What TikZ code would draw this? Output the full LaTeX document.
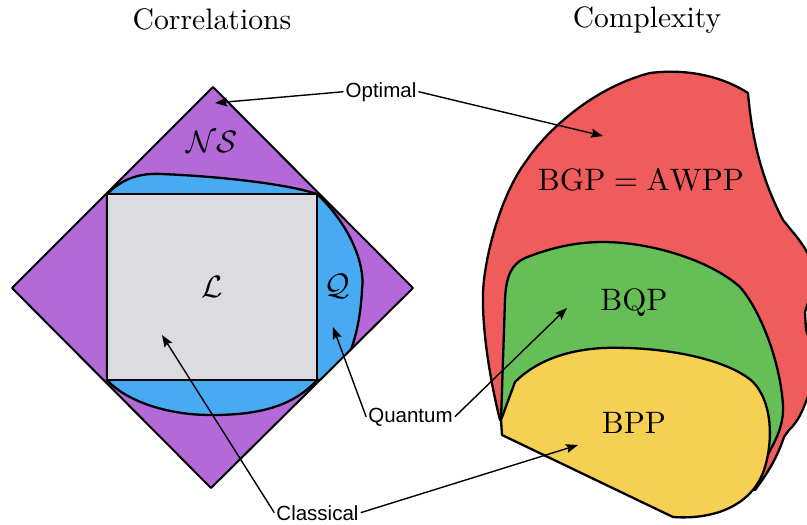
\documentclass[tikz,border=0pt]{standalone}
\usepackage{fontspec}
\newfontfamily\labfont{Liberation Sans}
\usetikzlibrary{arrows.meta}
\definecolor{nspurple}{RGB}{179,106,216}
\definecolor{qblue}{RGB}{72,170,240}
\definecolor{lgray}{RGB}{220,220,224}
\definecolor{cred}{RGB}{240,92,92}
\definecolor{cgreen}{RGB}{102,190,86}
\definecolor{cyellow}{RGB}{245,208,82}
\tikzset{
  region/.style={draw=black, line width=2.3pt, line join=round},
  arr/.style={-{Stealth[length=12pt,width=9pt,inset=2pt]}, line width=1.4pt},
  lab/.style={font=\labfont\fontsize{20.5}{24}\selectfont, inner sep=2pt, anchor=base},
  mlab/.style={inner sep=0pt, anchor=base},
}
\begin{document}
\begin{tikzpicture}[x=1pt,y=-1pt]
\useasboundingbox (0,0) rectangle (807,525);
% diamond
\coordinate (dT) at (213,87);
\coordinate (dR) at (413,288);
\coordinate (dB) at (211,488);
\coordinate (dL) at (12,288);
\fill[nspurple] (dT) -- (dR) -- (dB) -- (dL) -- cycle;
\begin{scope}
  \clip (dT) -- (dR) -- (dB) -- (dL) -- cycle;
  \draw[region, fill=qblue] (107,194) .. controls (124,177) and (142,173) .. (162,174)
    .. controls (230,177) and (290,185) .. (317,194)
    .. controls (345,220) and (366,260) .. (362,290)
    .. controls (360,330) and (350,360) .. (335,380) -- (317,380)
    .. controls (290,410) and (250,415) .. (211,415)
    .. controls (165,415) and (125,400) .. (107,380) -- cycle;
\end{scope}
\draw[region, line width=2pt] (dT) -- (dR) -- (dB) -- (dL) -- cycle;
\draw[fill=lgray, line width=2.7pt] (107,194) rectangle (317,380);
% complexity blobs
\draw[region, fill=cred] (500,420) .. controls (490,380) and (482,330) .. (483,293)
  .. controls (484,260) and (500,195) .. (527,160)
  .. controls (540,140) and (585,90) .. (650,73)
  .. controls (690,68) and (725,78) .. (748,93)
  .. controls (752,140) and (762,180) .. (783,220)
  .. controls (795,235) and (803,243) .. (810,258)
  -- (812,290) -- (805,312) -- (806,330) -- (812,345) -- (812,385)
  .. controls (805,405) and (800,420) .. (789,430) -- (784,437)
  .. controls (778,455) and (770,470) .. (755,490) -- (700,470) -- cycle;
\draw[region, fill=cgreen] (501,420) -- (505,300)
  .. controls (506,275) and (512,264) .. (525,258)
  .. controls (555,246) and (580,242) .. (603,242)
  .. controls (650,242) and (710,260) .. (740,287)
  .. controls (760,310) and (780,360) .. (783,405)
  .. controls (784,425) and (776,440) .. (766,458) -- (740,470) -- cycle;
\draw[region, fill=cyellow] (501,420) -- (502,435) -- (673,517)
  .. controls (715,520) and (752,505) .. (764,470)
  .. controls (774,440) and (772,400) .. (752,381)
  .. controls (725,358) and (660,346) .. (603,348)
  .. controls (565,350) and (535,362) .. (515,382) -- cycle;
% titles
\node[mlab] (tcorr) at (212,29) {\scalebox{2.97}{Correlations}};
\node[mlab] (tcomp) at (647,27) {\scalebox{2.95}{Complexity}};
% region labels
\node[mlab] (ns) at (212,152) {\scalebox{3.1}{$\mathcal{NS}$}};
\node[mlab] (ll) at (212,297) {\scalebox{3.1}{$\mathcal{L}$}};
\node[mlab] (qq) at (337,295) {\scalebox{3.1}{$\mathcal{Q}$}};
\node[mlab] (bgp) at (641,190) {\scalebox{3.1}{$\mathrm{BGP}=\mathrm{AWPP}$}};
\node[mlab] (bqp) at (634,310) {\scalebox{3.1}{$\mathrm{BQP}$}};
\node[mlab] (bpp) at (634,433) {\scalebox{3.1}{$\mathrm{BPP}$}};
% callout labels
\node[lab] (opt) at (381,97) {Optimal};
\node[lab] (quant) at (410.5,422) {Quantum};
\node[lab] (class) at (317.5,520) {Classical};
% arrow tips
\coordinate (tipNS) at (215,103);
\coordinate (tipBGP) at (603,136);
\coordinate (tipQ) at (333,327);
\coordinate (tipBQP) at (567,308);
\coordinate (tipL) at (162,335);
\coordinate (tipBPP) at (578,445);
\draw[arr] (opt.west) -- (tipNS);
\draw[arr] (opt.east) -- (tipBGP);
\draw[arr] (quant.west) -- (tipQ);
\draw[arr] (quant.east) -- (tipBQP);
\draw[arr] (class.west) -- (tipL);
\draw[arr] (class.east) -- (tipBPP);
\end{tikzpicture}
\end{document}
